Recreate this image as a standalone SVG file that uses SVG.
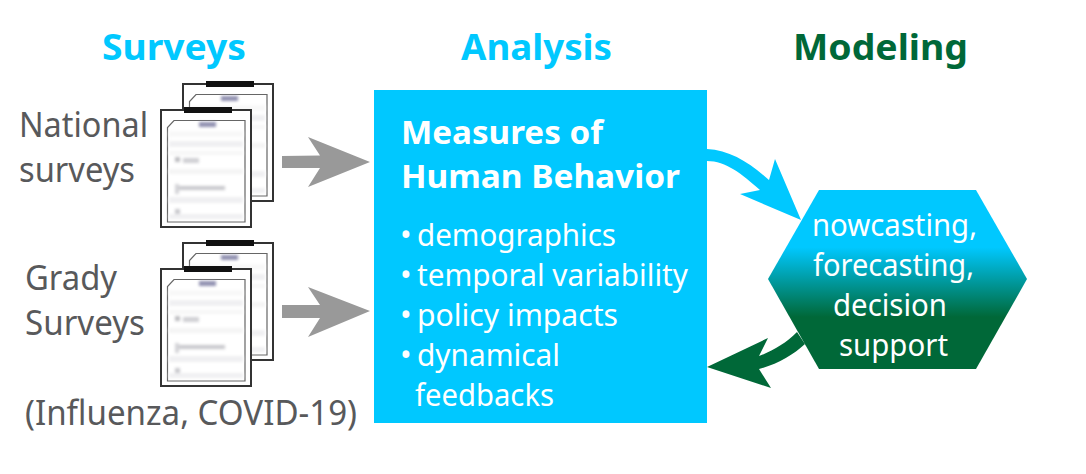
<svg xmlns="http://www.w3.org/2000/svg" xmlns:xlink="http://www.w3.org/1999/xlink" width="1086" height="474" viewBox="0 0 1086 474">
<style>
text{font-family:"Noto Sans","Open Sans","Liberation Sans",sans-serif}
.h{font-size:35px;font-weight:700;fill:#00c8ff}
.l{font-size:35px;fill:#58595b}
.b{font-size:31px;fill:#fff}
.t{font-size:33px;font-weight:700;fill:#fff}
.frame{fill:#fff;stroke:#333;stroke-width:2}
.inner{fill:#fff;stroke:#666;stroke-width:1.2}
</style>
<defs>
<linearGradient id="hexgrad" gradientUnits="userSpaceOnUse" x1="0" y1="190" x2="0" y2="369">
<stop offset="0.32" stop-color="#00c8ff"/><stop offset="0.71" stop-color="#006838"/>
</linearGradient>
<filter id="blur" x="-5%" y="-5%" width="110%" height="110%"><feGaussianBlur stdDeviation="1.5"/></filter>
<g id="page">
<rect class="frame" x="0" y="0" width="90" height="117"/>
<path class="inner" d="M13 10.500H84V112H6.500V17.500Z"/>
<g filter="url(#blur)" fill="#f0f0f2">
<rect x="38" y="12" width="17" height="5" fill="#9090b0"/>
<rect x="8" y="21" width="74" height="6" fill="#f8f8f8"/>
<rect x="8" y="31" width="74" height="6"/>
<rect x="8" y="41" width="74" height="4" fill="#f6f6f6"/>
<rect x="14" y="47" width="5" height="5" fill="#bcbcc0"/>
<rect x="22" y="48" width="16" height="5" fill="#d0d0d4"/>
<rect x="8" y="59" width="74" height="5" fill="#f4f4f4"/>
<rect x="14" y="74" width="4" height="10" fill="#d4d4d8"/>
<rect x="18" y="76" width="46" height="4" fill="#c8c8cc"/>
<rect x="8" y="87" width="74" height="6"/>
<rect x="14" y="99" width="5" height="5" fill="#c8c8cc"/>
<rect x="8" y="104" width="74" height="5"/>
</g>
<rect x="23" y="-3" width="48" height="6" fill="#111"/>
</g>
<g id="stack">
<use xlink:href="#page" href="#page" x="22" y="-26"/>
<use xlink:href="#page" href="#page" x="0" y="0"/>
</g>
</defs>

<g id="heading-surveys"><text class="h" x="174" y="60" text-anchor="middle" textLength="144" lengthAdjust="spacingAndGlyphs">Surveys</text></g>
<g id="heading-analysis"><text class="h" x="536.5" y="60" text-anchor="middle" textLength="151" lengthAdjust="spacingAndGlyphs">Analysis</text></g>
<g id="heading-modeling"><text class="h" x="880.5" y="60" text-anchor="middle" textLength="175" lengthAdjust="spacingAndGlyphs" style="fill:#006838">Modeling</text></g>

<g id="national-surveys">
<use xlink:href="#stack" href="#stack" x="161" y="110"/>
<text class="l" x="19" y="137" textLength="129" lengthAdjust="spacingAndGlyphs">National</text>
<text class="l" x="19" y="182" textLength="116" lengthAdjust="spacingAndGlyphs">surveys</text>
</g>
<g id="grady-surveys">
<use xlink:href="#stack" href="#stack" x="161" y="269"/>
<text class="l" x="25" y="290" textLength="92" lengthAdjust="spacingAndGlyphs">Grady</text>
<text class="l" x="25" y="335" textLength="120" lengthAdjust="spacingAndGlyphs">Surveys</text>
<text class="l" x="25" y="425" textLength="332" lengthAdjust="spacingAndGlyphs">(Influenza, COVID-19)</text>
</g>

<g id="analysis">
<rect x="374" y="90" width="333" height="333" fill="#00c8ff"/>
<text class="t" x="401" y="144" textLength="202" lengthAdjust="spacingAndGlyphs">Measures of</text>
<text class="t" x="401" y="188" textLength="279" lengthAdjust="spacingAndGlyphs">Human Behavior</text>
<text class="b" x="400" y="246">•</text><text class="b" x="417" y="246" textLength="199" lengthAdjust="spacingAndGlyphs">demographics</text>
<text class="b" x="400" y="286">•</text><text class="b" x="417" y="286" textLength="271" lengthAdjust="spacingAndGlyphs">temporal variability</text>
<text class="b" x="400" y="326">•</text><text class="b" x="417" y="326" textLength="201" lengthAdjust="spacingAndGlyphs">policy impacts</text>
<text class="b" x="400" y="366">•</text><text class="b" x="417" y="366" textLength="143" lengthAdjust="spacingAndGlyphs">dynamical</text>
<text class="b" x="415" y="406" textLength="139" lengthAdjust="spacingAndGlyphs">feedbacks</text>
</g>

<g id="modeling">
<polygon points="819,190 976,190 1027,279 976,369 819,369 768,279" fill="url(#hexgrad)"/>
<text class="b" x="894.5" y="236" text-anchor="middle" textLength="165" lengthAdjust="spacingAndGlyphs">nowcasting,</text>
<text class="b" x="893.5" y="276" text-anchor="middle" textLength="161" lengthAdjust="spacingAndGlyphs">forecasting,</text>
<text class="b" x="890" y="316" text-anchor="middle" textLength="114" lengthAdjust="spacingAndGlyphs">decision</text>
<text class="b" x="893.5" y="356" text-anchor="middle" textLength="109" lengthAdjust="spacingAndGlyphs">support</text>
</g>

<g id="connectors">
<polygon points="282,156 320,155.500 308,137 370,162 308,187 320,168 282,168" fill="#999"/>
<polygon points="282,305 320,305 308,287 370,311 308,337 320,318 282,318" fill="#999"/>
<path d="M707,149C730,150 750,163 769,180L775,159L801,220L740,194L760,190C742,174 726,161 707,161Z" fill="#00c8ff"/>
<path d="M797,332C786,343 773,351 759,356L768,338L707,367L771,388L759,369C778,364 793,355 805,344Z" fill="#006838"/>
</g>
</svg>
